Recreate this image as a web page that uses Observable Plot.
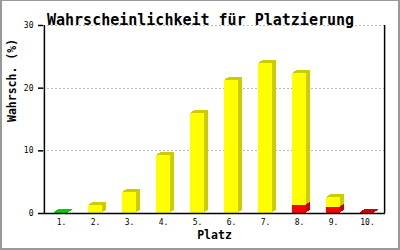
<!DOCTYPE html>
<html>
<head>
<meta charset="utf-8">
<script src="https://cdn.jsdelivr.net/npm/d3@7"></script>
<script src="https://cdn.jsdelivr.net/npm/@observablehq/plot@0.6"></script>
<style>
  html, body { margin: 0; padding: 0; background: #fff; }
  #wrap { position: relative; width: 400px; height: 250px; overflow: hidden; }
  #border { position: absolute; left: 0; top: 0; width: 400px; height: 250px; box-sizing: border-box;
            border-style: solid; border-color: #999; border-width: 1px 2px 2px 2px; pointer-events: none; }
</style>
</head>
<body>
<div id="wrap"><div id="border"></div></div>
<script>
// Data
const places = ["1.", "2.", "3.", "4.", "5.", "6.", "7.", "8.", "9.", "10."];
const greenVals  = [0.2, 0, 0, 0, 0, 0, 0, 0, 0, 0];
const redVals    = [0, 0, 0, 0, 0, 0, 0, 1.3, 0.9, 0.2];
const yellowVals = [0, 1.3, 3.4, 9.2, 16.0, 21.2, 24.0, 21.0, 1.6, 0];
const yTicks = [0, 10, 20, 30];
const titleText = "Wahrscheinlichkeit für Platzierung";
const yLabel = "Wahrsch. (%)";
const xLabel = "Platz";

const frontColor = {red: "#ff0000", green: "#00dd00", yellow: "#ffff00"};
const sideColor  = {red: "#cc0000", green: "#00cc00", yellow: "#cccc00"};

const rows = [];
places.forEach((p, i) => {
  if (redVals[i] > 0) rows.push({platz: p, kind: "red", value: redVals[i]});
  if (greenVals[i] > 0) rows.push({platz: p, kind: "green", value: greenVals[i]});
  if (yellowVals[i] > 0) rows.push({platz: p, kind: "yellow", value: yellowVals[i]});
});

const W = 400, H = 250, ML = 43, MR = 15, MT = 25, MB = 37;
const bw = (W - ML - MR) / places.length;
const barW = 15;
const inset = (bw - barW) / 2;
const offsets = [[4, -3], [3, -2], [2, -2], [1, -1]];
const mono = "'DejaVu Sans Mono', 'Liberation Mono', monospace";

const chart = Plot.plot({
  width: W, height: H,
  marginLeft: ML, marginRight: MR, marginTop: MT, marginBottom: MB,
  style: {fontFamily: mono, fontSize: "8px", background: "white", color: "black"},
  x: {type: "band", domain: places, padding: 0, label: null},
  y: {domain: [0, 30], label: null},
  marks: [
    Plot.ruleY(yTicks.filter(t => t > 0), {stroke: "#bbb", strokeOpacity: 1, strokeDasharray: "2,2", shapeRendering: "crispEdges"}),
    ...offsets.map(([dx, dy]) => Plot.barY(rows, {
      x: "platz", y: "value", fill: d => sideColor[d.kind],
      insetLeft: inset, insetRight: inset, dx, dy, shapeRendering: "crispEdges"
    })),
    Plot.barY(rows, {
      x: "platz", y: "value", fill: d => frontColor[d.kind],
      insetLeft: inset, insetRight: inset, shapeRendering: "crispEdges"
    }),
    Plot.ruleY([0], {stroke: "black", strokeWidth: 1.5}),
    Plot.ruleX([places[0]], {dx: -bw / 2, y1: 0, y2: 30, stroke: "black", strokeWidth: 1.5}),
    Plot.ruleX([places[places.length - 1]], {dx: bw / 2, y1: 0, y2: 30, stroke: "black", strokeWidth: 1.5}),
    Plot.axisY({anchor: "left", ticks: yTicks, tickSize: 5, tickPadding: 5, label: null, fontSize: 8, strokeWidth: 1.5}),
    Plot.axisX({anchor: "bottom", tickSize: 0, tickPadding: 6, label: null, fontSize: 8}),
    Plot.text([titleText], {frameAnchor: "top", text: d => d, dx: -14, dy: -11.5,
      fontSize: 15, fontWeight: "bold", fontFamily: mono}),
    Plot.text([yLabel], {frameAnchor: "left", text: d => d, rotate: -90, dx: -31, dy: 2.5,
      fontSize: 11.5, fontWeight: "bold", fontFamily: mono}),
    Plot.text([xLabel], {frameAnchor: "bottom", text: d => d, dy: 25.5,
      fontSize: 11.5, fontWeight: "bold", fontFamily: mono})
  ]
});
document.getElementById("wrap").insertBefore(chart, document.getElementById("border"));
</script>
</body>
</html>
